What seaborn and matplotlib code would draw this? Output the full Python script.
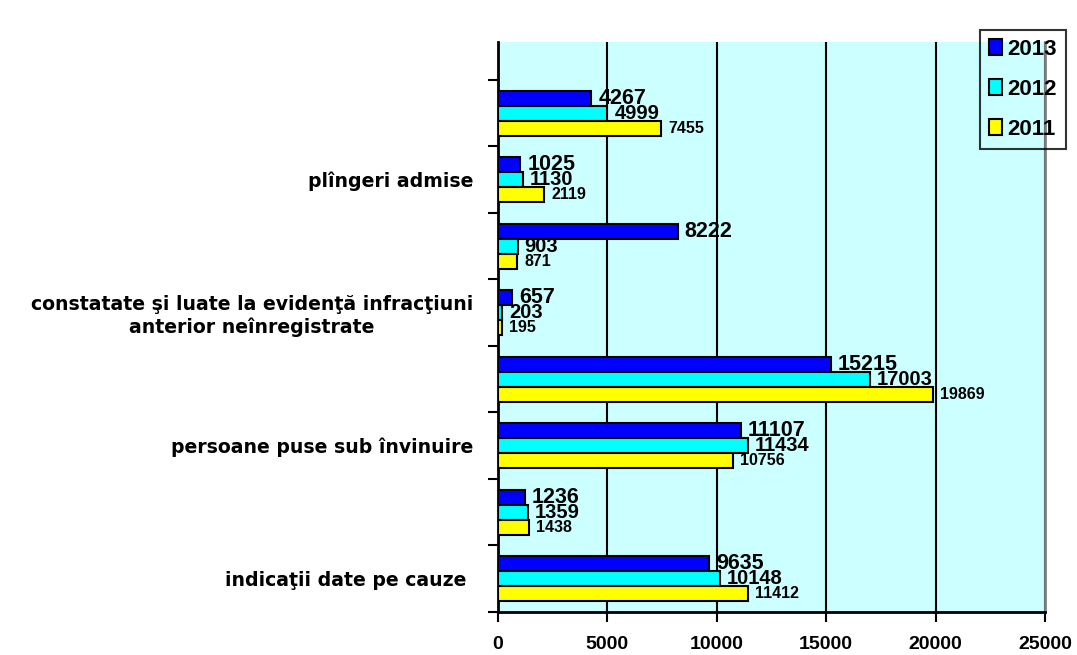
import pandas as pd
import matplotlib.pyplot as plt
import seaborn as sns

BLUE = '#0000FF'
CYAN = '#00FFFF'
YELLOW = '#FFFF00'
PLOT_BG = '#CCFFFF'

# categories from top to bottom (empty slots have no label)
slots = ['s0', 's1', 's2', 's3', 's4', 's5', 's6', 's7']
labels = ['', 'plîngeri admise', '',
          'constatate şi luate la evidenţă infracţiuni\nanterior neînregistrate', '',
          'persoane puse sub învinuire', '', 'indicaţii date pe cauze ']
years = ['2013', '2012', '2011']
v2013 = [4267, 1025, 8222, 657, 15215, 11107, 1236, 9635]
v2012 = [4999, 1130, 903, 203, 17003, 11434, 1359, 10148]
v2011 = [7455, 2119, 871, 195, 19869, 10756, 1438, 11412]

rows = []
for yr, vals in zip(years, [v2013, v2012, v2011]):
    for s, v in zip(slots, vals):
        rows.append({'slot': s, 'year': yr, 'value': v})
df = pd.DataFrame(rows)

sns.set_theme(style='white')
plt.rcParams['font.family'] = ['DejaVu Sans']
plt.rcParams['text.color'] = 'black'
plt.rcParams['xtick.color'] = 'black'
plt.rcParams['ytick.color'] = 'black'
plt.rcParams['xtick.labelcolor'] = 'black'
plt.rcParams['ytick.labelcolor'] = 'black'

fig = plt.figure(figsize=(10.77, 6.55), dpi=100)
ax = fig.add_axes([498 / 1077, 1 - 612 / 655, 547 / 1077, 570 / 655])
ax.set_facecolor(PLOT_BG)

sns.barplot(data=df, y='slot', x='value', hue='year', order=slots,
            hue_order=years, palette=[BLUE, CYAN, YELLOW], orient='h',
            width=0.675, dodge=True, edgecolor='black', linewidth=1.5,
            saturation=1, ax=ax, legend=True, zorder=3)

# value labels
sizes = {'2013': 15.5, '2012': 14.5, '2011': 11.5}
for cont, yr in zip(ax.containers, years):
    ax.bar_label(cont, labels=[str(int(b.get_width())) for b in cont],
                 padding=5, fontsize=sizes[yr], fontweight='bold',
                 family='Liberation Sans', color='black')

ax.set_xlim(0, 25000)
ax.set_ylim(7.5, -1.07)
ax.set_xticks(range(0, 25001, 5000))
ax.set_xticklabels([str(v) for v in range(0, 25001, 5000)],
                   fontsize=14, fontweight='bold', family='Liberation Sans')
ax.tick_params(axis='x', length=7, width=1.5, pad=10, color='black', direction='out', bottom=True)

ax.set_yticks([i - 0.5 for i in range(len(slots) + 1)])
ax.set_yticklabels([])
ax.tick_params(axis='y', which='major', length=7, width=1.5, color='black', direction='out', left=True)
ax.set_yticks(range(len(slots)), minor=True)
ax.set_yticklabels(labels, minor=True, fontsize=13.6, fontweight='bold',
                   ha='right', multialignment='center', color='black')
ax.tick_params(axis='y', which='minor', length=0, pad=18)

ax.grid(axis='x', color='black', linewidth=1.5, zorder=0)
ax.set_axisbelow(True)
ax.set_xlabel('')
ax.set_ylabel('')

for side in ['left', 'bottom']:
    ax.spines[side].set_color('black')
    ax.spines[side].set_linewidth(2)
ax.spines['right'].set_color('#808080')
ax.spines['right'].set_linewidth(2)
ax.spines['top'].set_visible(False)

leg = ax.legend(loc='upper left', bbox_to_anchor=(0.881, 1.021),
                frameon=True, facecolor='none', edgecolor='black',
                fancybox=False,
                prop={'family': 'Liberation Sans', 'weight': 'bold', 'size': 16},
                handlelength=0.6, handleheight=0.7, handletextpad=0.25,
                labelspacing=0.85, borderpad=0.4, borderaxespad=0)
leg.get_frame().set_linewidth(1.5)
for t in leg.get_texts():
    t.set_color('black')

fig.savefig('out.png', dpi=100)
